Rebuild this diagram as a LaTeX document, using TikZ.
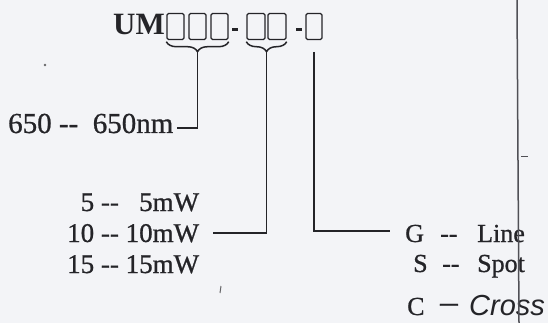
\documentclass[tikz,border=0pt]{standalone}
\usepackage{fontspec}
\setmainfont{Liberation Serif}
\newfontfamily\scanfont[FakeBold=0.8]{Liberation Serif}
\newfontfamily\handfont{Liberation Sans}
\usetikzlibrary{decorations.pathreplacing}
\definecolor{ink}{RGB}{36,36,40}
\definecolor{paper}{RGB}{243,244,247}
\definecolor{scanline}{RGB}{80,80,86}
\begin{document}
\begin{tikzpicture}[x=1pt,y=-1pt,
  slot/.style={draw=ink, line width=1.4pt, rounded corners=1.5pt, minimum width=17pt, minimum height=26pt, inner sep=0pt},
  code/.style={inner sep=0pt, text=ink, font=\fontsize{31}{31}\selectfont\bfseries},
  lbl/.style={inner sep=0pt, text=ink, font=\fontsize{27}{27}\selectfont\scanfont},
  rlbl/.style={inner sep=0pt, text=ink, font=\fontsize{26}{26}\selectfont\scanfont},
  hand/.style={inner sep=0pt, text=ink, font=\fontsize{29}{29}\selectfont\handfont\itshape},
  hyph/.style={draw=ink, line width=3pt},
  brc/.style={draw=ink, line width=1.5pt, decorate, decoration={brace, mirror, amplitude=10pt}},
  conn/.style={draw=ink, line width=1.7pt},
  speck/.style={fill=ink!70}]
% paper
\fill[paper] (0,0) rectangle (548,323);
\useasboundingbox (0,0) rectangle (548,323);
% code line
\node[code, anchor=base west] (um) at (113,35) {UM};
\node[slot] (b1) at (175.5,26.5) {};
\node[slot] (b2) at (197.5,26.5) {};
\node[slot] (b3) at (219.5,26.5) {};
\draw[hyph] (232,30) -- (238,30);
\node[slot, minimum width=18pt] (b4) at (256,26.5) {};
\node[slot, minimum width=18pt] (b5) at (277,26.5) {};
\draw[hyph] (296,30) -- (302,30);
\node[slot, minimum width=16pt] (b6) at (314,26.5) {};
% braces
\draw[brc] ([yshift=-1.5pt]b1.south west) -- ([yshift=-1.5pt]b3.south east);
\draw[brc] ([yshift=-1.5pt]b4.south west) -- ([yshift=-1.5pt]b5.south east);
\coordinate (t1) at (197.5,52);
\coordinate (t2) at (266.5,52);
\coordinate (t3) at (314,52);
% labels left
\node[lbl, font=\fontsize{29}{29}\selectfont\scanfont, anchor=base west] (l650) at (8,133) {650 -{}- \ 650nm};
\node[lbl, anchor=base west] (l5) at (67,211) {\phantom{1}5 -{}- \phantom{1}5mW};
\node[lbl, anchor=base west] (l10) at (67,242) {10 -{}- 10mW};
\node[lbl, anchor=base west] (l15) at (67,273) {15 -{}- 15mW};
% labels right
\node[rlbl, anchor=base west] (kG) at (405,242) {G};
\node[rlbl, anchor=base west] (dG) at (440,242) {-{}-};
\node[rlbl, anchor=base west] (wG) at (477,242) {Line};
\node[rlbl, anchor=base west] (kS) at (413,272) {S};
\node[rlbl, anchor=base west] (dS) at (442,272) {-{}-};
\node[rlbl, anchor=base west] (wS) at (477,272) {Spot};
\node[rlbl, anchor=base west] (kC) at (407,315) {C};
\node[rlbl, font=\fontsize{35}{35}\selectfont\scanfont, anchor=base west] (dC) at (440,313) {\textendash};
\node[hand, anchor=base west] (wC) at (469,315) {Cross};
% connector end points
\coordinate (e1) at (177,128);
\coordinate (e2) at (213,233);
\coordinate (e3) at (390,231);
% connectors
\draw[conn] (t1) |- (e1);
\draw[conn] (t2) |- (e2);
\draw[conn] (t3) |- (e3);
% scan artefacts
\draw[scanline, line width=1.5pt] (517,0) -- (519,323);
\draw[scanline, line width=1pt] (521,157) -- (528,157);
\fill[speck] (45,65) circle (1.3pt);
\draw[ink!70, line width=1pt] (221,286) -- (220,293);
\end{tikzpicture}
\end{document}
